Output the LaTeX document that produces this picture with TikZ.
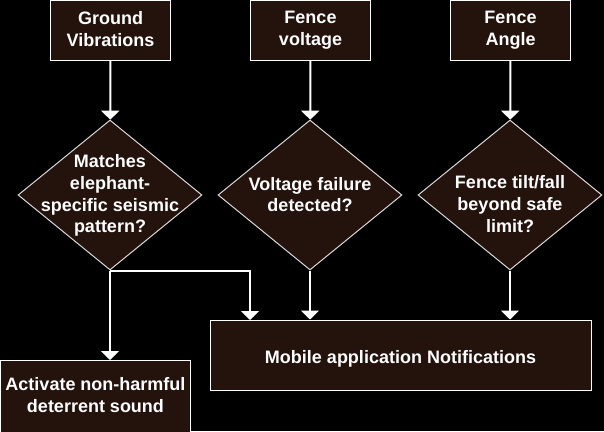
\documentclass[tikz,border=0pt]{standalone}
\usepackage{fontspec}
\setmainfont{Liberation Sans}
\usetikzlibrary{shapes.geometric,arrows.meta}

\definecolor{boxfill}{RGB}{36,18,12}
\newcommand{\topstrut}{\rule{0pt}{19.9pt}}
\newcommand{\botstrut}{\rule[-3pt]{0pt}{3pt}}

\begin{document}
\begin{tikzpicture}[
  x=1pt, y=-1pt,
  every node/.style={
    text=white,
    font=\bfseries\fontsize{18}{21.7}\selectfont,
    align=center,
    execute at begin node=\topstrut,
    execute at end node=\botstrut,
  },
  my box/.style={
    draw=white, line width=1pt, fill=boxfill,
    rectangle, inner sep=0pt,
  },
  my dia/.style={
    draw=white!85!black, line width=1pt, fill=boxfill,
    diamond, inner sep=0pt, minimum width=184pt, minimum height=150pt,
  },
  my arrow/.style={
    draw=white, line width=2pt,
    -{Triangle[width=18pt,length=9pt]},
  }]
  \fill[black] (0,0) rectangle (604,431);
  \useasboundingbox (0,0) rectangle (604,431);
  % sensors
  \node[my box, minimum width=120pt, minimum height=60pt] (gv) at (110.5,30.5) {Ground\\Vibrations};
  \node[my box, minimum width=120pt, minimum height=60pt] (fv) at (310.5,30.5) {Fence\\voltage};
  \node[my box, minimum width=120pt, minimum height=60pt] (fa) at (510.5,30.5) {Fence\\Angle};
  % decisions
  \node[my dia] (d1) at (110,195) {};
  \node (d1 text) at (110,195.5) {Matches\\elephant-\\specific seismic\\pattern?};
  \node[my dia] (d2) at (310,195) {};
  \node (d2 text) at (310,196) {Voltage failure\\detected?};
  \node[my dia] (d3) at (510,195) {};
  \node (d3 text) at (510,205.5) {Fence tilt/fall\\beyond safe\\limit?};
  % actions
  \node[my box, minimum width=381pt, minimum height=70pt] (mob) at (400.5,355) {Mobile application Notifications};
  \node[my box, minimum width=190pt, minimum height=72pt] (snd) at (95.5,396.5) {Activate non-harmful\\deterrent sound};
  \coordinate (mob in) at (250,320);
  % connectors
  \draw[my arrow] (gv) -- (d1);
  \draw[my arrow] (fv) -- (d2);
  \draw[my arrow] (fa) -- (d3);
  \draw[my arrow] (d1.south) -- (snd.north -| d1.south);
  \draw[my arrow] (d1.south) -| (mob in);
  \draw[my arrow] (d2.south) -- (mob.north -| d2.south);
  \draw[my arrow] (d3.south) -- (mob.north -| d3.south);
\end{tikzpicture}
\end{document}
